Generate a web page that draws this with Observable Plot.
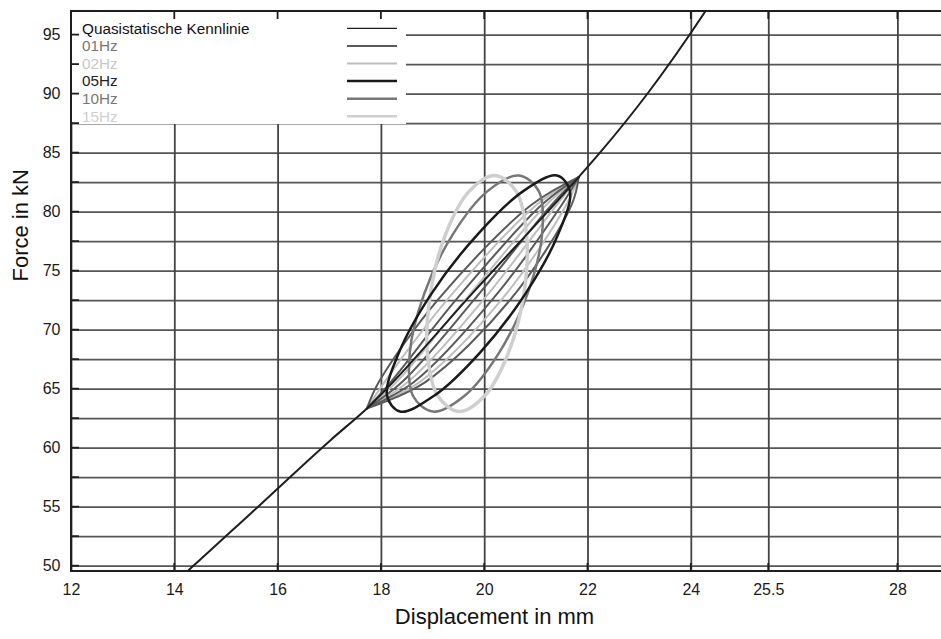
<!DOCTYPE html>
<html><head><meta charset="utf-8">
<script src="https://cdn.jsdelivr.net/npm/d3@7"></script>
<script src="https://cdn.jsdelivr.net/npm/@observablehq/plot@0.6"></script>
<style>
body{margin:0;background:#fff;}
#chart{width:941px;height:639px;}
</style></head><body><div id="chart"></div>
<script>
// ---- tick values ----
const xTicks = [12, 14, 16, 18, 20, 22, 24, 25.5, 28];
const yTickLabels = [50, 55, 60, 65, 70, 75, 80, 85, 90, 95];
const yGrid = [50, 52.5, 55, 57.5, 60, 62.5, 65, 67.5, 70, 72.5, 75, 77.5, 80, 82.5, 85, 87.5, 90, 92.5, 95];

// ---- series names ----
const seriesNames = ["Quasistatische Kennlinie", "01Hz", "02Hz", "05Hz", "10Hz", "15Hz"];

// ---- quasistatic characteristic (displacement mm, force kN) ----
const quasiX = [14.10, 14.24, 15.47, 17.01, 17.72, 19.80, 21.82, 22.24, 23.15, 24.27, 24.45];
const quasiF = [49.00, 49.55, 54.47, 60.66, 63.37, 73.31, 82.97, 85.08, 90.03, 97.00, 98.20];

// ---- 05Hz loop ----
const hz05X = [20.79, 21.42, 21.65, 21.40, 20.74, 19.86, 18.97, 18.34, 18.11, 18.36, 19.02, 19.91];
const hz05F = [73.1, 78.1, 81.76, 83.1, 81.76, 78.1, 73.1, 68.1, 64.44, 63.1, 64.44, 68.1];
// ---- 10Hz loop ----
const hz10X = [20.83, 21.11, 21.05, 20.66, 20.05, 19.38, 18.83, 18.55, 18.61, 19.00, 19.61, 20.28];
const hz10F = [73.1, 78.1, 81.76, 83.1, 81.76, 78.1, 73.1, 68.1, 64.44, 63.1, 64.44, 68.1];
// ---- 15Hz loop ----
const hz15X = [20.76, 20.81, 20.61, 20.20, 19.70, 19.24, 18.95, 18.89, 19.09, 19.50, 20.00, 20.46];
const hz15F = [73.1, 78.1, 81.76, 83.1, 81.76, 78.1, 73.1, 68.1, 64.44, 63.1, 64.44, 68.1];

// ---- 01Hz / 02Hz thin loops (drifting branches): force levels and displacements ----
const branchF = [63.37, 65.6, 72.6, 80.6, 82.97];
const hz01Branches = [
  [17.72, 17.95, 19.10, 20.90, 21.82],
  [17.72, 18.18, 19.45, 21.10, 21.82],
  [17.72, 18.40, 19.80, 21.29, 21.82],
  [17.72, 18.63, 20.15, 21.49, 21.82],
  [17.72, 18.85, 20.50, 21.68, 21.82]
];
const hz02Branches = [
  [17.72, 18.06, 19.28, 21.00, 21.82],
  [17.72, 18.29, 19.63, 21.19, 21.82],
  [17.72, 18.51, 19.98, 21.39, 21.82],
  [17.72, 18.74, 20.33, 21.58, 21.82]
];

// ---- styles ----
const styles = {
  "Quasistatische Kennlinie": {stroke: "#1e1e1e", width: 2, text: "#111"},
  "01Hz": {stroke: "#5a5a5a", width: 2, text: "#777"},
  "02Hz": {stroke: "#bebebe", width: 2, text: "#c8c8c8"},
  "05Hz": {stroke: "#1a1a1a", width: 2.5, text: "#222"},
  "10Hz": {stroke: "#777", width: 2.5, text: "#777"},
  "15Hz": {stroke: "#cfcfcf", width: 3.5, text: "#d0d0d0"}
};

const toRows = (xs, fs, extra = {}) => xs.map((x, i) => ({x, f: fs[i], ...extra}));
const quasi = toRows(quasiX, quasiF);
const loop05 = toRows(hz05X, hz05F);
const loop10 = toRows(hz10X, hz10F);
const loop15 = toRows(hz15X, hz15F);
const br01 = hz01Branches.flatMap((xs, k) => toRows(xs, branchF, {k}));
const br02 = hz02Branches.flatMap((xs, k) => toRows(xs, branchF, {k}));

function legendMark(index, scales, values, dims) {
  const g = d3.create("svg:g").attr("text-anchor", "start");
  const x0 = dims.marginLeft, y0 = dims.marginTop;
  g.append("rect").attr("x", x0).attr("y", y0).attr("width", 335).attr("height", 113).attr("fill", "#fff");
  seriesNames.forEach((name, i) => {
    const s = styles[name];
    const cy = y0 + 17.3 + i * 17.6;
    g.append("text").attr("x", x0 + 11).attr("y", cy).attr("dy", "0.35em")
      .attr("text-anchor", "start").attr("fill", s.text).attr("font-size", 15.3).text(name);
    g.append("line").attr("x1", x0 + 276).attr("x2", x0 + 326).attr("y1", cy).attr("y2", cy)
      .attr("stroke", s.stroke).attr("stroke-width", i === 0 ? 1.3 : Math.min(s.width, 2.5));
  });
  return g.node();
}

function frameMark(index, scales, values, dims) {
  const g = d3.create("svg:g").attr("stroke", "#1e1e1e").attr("fill", "none");
  const L = dims.marginLeft, T = dims.marginTop;
  const R = dims.width - dims.marginRight, B = dims.height - dims.marginBottom;
  for (const v of xTicks) {
    const px = scales.x(v);
    g.append("line").attr("x1", px).attr("x2", px).attr("y1", T).attr("y2", T + 8).attr("stroke-width", 1.8);
    g.append("line").attr("x1", px).attr("x2", px).attr("y1", B).attr("y2", B - 8).attr("stroke-width", 1.8);
  }
  for (const v of yGrid) {
    const py = scales.y(v);
    g.append("line").attr("x1", L).attr("x2", L + 8).attr("y1", py).attr("y2", py).attr("stroke-width", 1.8);
  }
  g.append("path").attr("d", `M${R},${T}H${L}V${B}H${R}`).attr("stroke-width", 2);
  return g.node();
}

const chart = Plot.plot({
  width: 941, height: 639,
  marginLeft: 71, marginRight: 0, marginTop: 11, marginBottom: 68,
  x: {domain: [12, 28.844]},
  y: {domain: [49.55, 97.0]},
  style: {fontFamily: "'Liberation Sans', Arial, sans-serif", background: "#fff", color: "#1a1a1a"},
  marks: [
    Plot.ruleY(yGrid, {stroke: "#555", strokeWidth: 1.8}),
    Plot.ruleX(xTicks, {stroke: "#444", strokeWidth: 1.8}),
    legendMark,
    Plot.line(br02, {x: "x", y: "f", z: "k", curve: "catmull-rom", stroke: styles["02Hz"].stroke, strokeWidth: styles["02Hz"].width}),
    Plot.line(br01, {x: "x", y: "f", z: "k", curve: "catmull-rom", stroke: styles["01Hz"].stroke, strokeWidth: styles["01Hz"].width}),
    Plot.line(loop10, {x: "x", y: "f", curve: "catmull-rom-closed", stroke: styles["10Hz"].stroke, strokeWidth: styles["10Hz"].width}),
    Plot.line(loop15, {x: "x", y: "f", curve: "catmull-rom-closed", stroke: styles["15Hz"].stroke, strokeWidth: styles["15Hz"].width}),
    Plot.line(loop05, {x: "x", y: "f", curve: "catmull-rom-closed", stroke: styles["05Hz"].stroke, strokeWidth: styles["05Hz"].width}),
    Plot.line(quasi, {x: "x", y: "f", curve: "monotone-x", clip: true, stroke: styles["Quasistatische Kennlinie"].stroke, strokeWidth: styles["Quasistatische Kennlinie"].width}),
    frameMark,
    Plot.axisX(xTicks, {anchor: "bottom", tickSize: 0, tickPadding: 12, fontSize: 16, label: null, tickFormat: d => String(d)}),
    Plot.axisY(yTickLabels, {anchor: "left", tickSize: 0, tickPadding: 11, fontSize: 16, label: null, tickFormat: d => String(d)}),
    Plot.text(["Displacement in mm"], {frameAnchor: "bottom", dy: 52, dx: -12, fontSize: 22, fill: "#111"}),
    Plot.text(["Force in kN"], {frameAnchor: "left", rotate: -90, dx: -51, dy: -10, fontSize: 22, fill: "#111"})
  ]
});
document.getElementById("chart").appendChild(chart);
</script>
</body></html>
